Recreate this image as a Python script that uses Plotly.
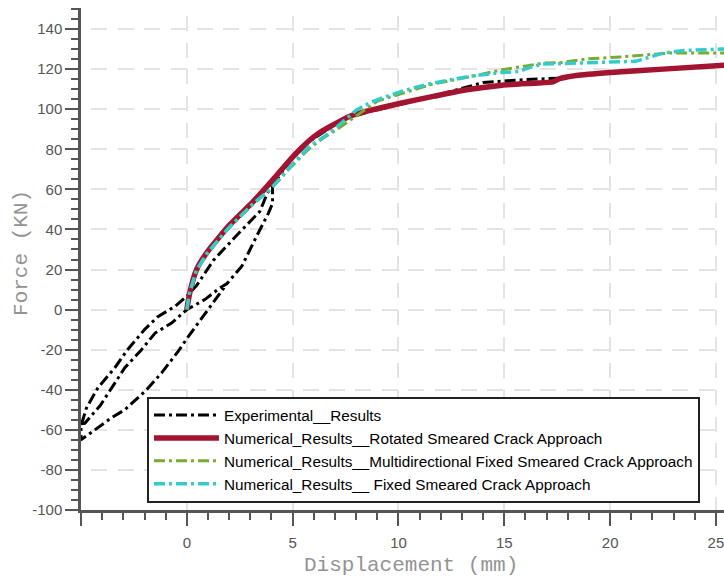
import plotly.graph_objects as go

# ---------------- data ----------------
exp_x = [-5.0, -4.82, -4.1, -3.5, -2.93, -2.14, -1.5, -0.72, 0.0, 0.85, 1.56, 1.9,
         2.6, 3.3, 3.85, 4.05, 4.05,
         3.8, 3.45, 2.35, 1.25, 0.46, 0.0, -0.57, -1.37, -2.0, -2.8, -3.4, -4.2, -4.74, -5.0, -5.0,
         -4.35, -3.56, -2.93, -1.9, -1.2, -0.42, 0.0, 0.85, 1.56, 1.9,
         None,
         4.05, 4.9, 5.8, 6.8, 7.7, 8.7, 10.1, 12.1, 14.0, 15.7, 17.6]
exp_y = [-57, -56.7, -48, -38, -29, -20, -11.7, -6.7, 0, 5, 10.8, 13,
         21.7, 36.7, 48, 53, 62,
         58, 49, 37, 24.5, 12, 6.7, 1.5, -3.5, -10, -20, -29, -39, -49, -58, -65,
         -60, -54, -50, -40, -31.7, -21, -14.5, -2, 8.3, 13,
         None,
         62, 74.5, 84, 91, 96, 99, 102.5, 107.8, 113.3, 114.6, 115.5]

rot_x = [0, 0.14, 0.46, 0.95, 2.0, 3.1, 4.0, 4.9, 5.4, 5.8, 6.3, 6.8, 7.7, 8.7, 10.1, 11.7,
         13.3, 14.9, 16.4, 17.3, 17.6, 18.4, 20.0, 22.5, 25.4]
rot_y = [0, 8.5, 20, 28.5, 42, 53.5, 64, 75, 80.5, 84.5, 88.5, 91.5, 96.5, 99.5, 103, 106.5,
         109.8, 112, 113, 113.6, 115.2, 116.8, 118.3, 120, 122]

multi_x = [0, 0.12, 0.45, 0.95, 2.0, 3.1, 3.95, 4.9, 5.8, 6.5, 7.1, 7.7, 8.3, 9.0,
           9.6, 10.5, 11.6, 13.3, 14.9, 16.1, 16.8, 17.6, 18.9, 20.5, 22.2, 22.9, 25.4]
multi_y = [0, 8, 19.5, 28, 41, 52.5, 60, 71, 80.5, 86, 90, 94.5, 99, 104,
           106, 109, 112.5, 116, 119.7, 121.7, 123, 123.2, 125.1, 126.1, 127.3, 128.1, 128.1]

fixed_x = [0, 0.12, 0.45, 0.95, 2.0, 3.1, 3.95, 4.9, 5.8, 6.8, 7.4, 8.0, 8.7, 9.6,
           10.5, 11.6, 13.3, 14.9, 15.7, 16.1, 16.8, 18.0, 19.6, 21.2, 21.4, 22.5,
           23.5, 24.4, 25.4]
fixed_y = [0, 8, 19.5, 28, 41, 52.5, 60, 71.5, 81.5, 88.5, 94, 99.5, 103.5, 107,
           110, 113, 116.3, 118.3, 118.8, 120.5, 122.5, 123, 123.4, 123.9, 124.5, 128,
           129.3, 129.8, 130]

x_tickvals = [-5, 0, 5, 10, 15, 20, 25]
x_ticktext = ["", "0", "5", "10", "15", "20", "25"]
y_tickvals = [-100, -80, -60, -40, -20, 0, 20, 40, 60, 80, 100, 120, 140]
y_ticktext = ["-100", "-80", "-60", "-40", "-20", "0", "20", "40", "60", "80", "100", "120", "140"]

names = ["Experimental__Results",
         "Numerical_Results__Rotated Smeared Crack Approach",
         "Numerical_Results__Multidirectional Fixed Smeared Crack Approach",
         "Numerical_Results__ Fixed Smeared Crack Approach"]

# ---------------- figure ----------------
dashdot = "11px,4px,3px,4px"
fig = go.Figure()
fig.add_trace(go.Scatter(x=exp_x, y=exp_y, mode="lines", name=names[0],
                         connectgaps=False,
                         line=dict(color="black", width=3, dash=dashdot)))
fig.add_trace(go.Scatter(x=rot_x, y=rot_y, mode="lines", name=names[1],
                         line=dict(color="#A2142F", width=5.5, shape="spline", smoothing=0.5)))
fig.add_trace(go.Scatter(x=multi_x, y=multi_y, mode="lines", name=names[2],
                         line=dict(color="#77AC30", width=3, dash=dashdot)))
fig.add_trace(go.Scatter(x=fixed_x, y=fixed_y, mode="lines", name=names[3],
                         line=dict(color="#33CCCC", width=3.5, dash=dashdot)))

axis_common = dict(
    showline=True, linecolor="#555555", linewidth=2.5,
    ticks="outside", ticklen=13, tickwidth=2, tickcolor="#555555",
    showgrid=True, gridcolor="#e4e4e4", gridwidth=2,
    zeroline=False, ticklabeloverflow="allow",
    tickfont=dict(family="Arial, Liberation Sans, sans-serif", size=15, color="#555555"),
)

fig.update_xaxes(range=[-5, 25.38], tickmode="array", tickvals=x_tickvals,
                 ticktext=x_ticktext, ticklabelstandoff=4,
                 griddash="0px,7.8px,15px,3.93px",
                 minor=dict(tickmode="linear", tick0=0, dtick=1, ticks="outside",
                            ticklen=7, tickwidth=2, tickcolor="#555555", showgrid=False),
                 **axis_common)
fig.update_yaxes(range=[-100, 150.5], tickmode="array", tickvals=y_tickvals,
                 ticktext=y_ticktext,
                 griddash="0px,10.4px,16px,0px",
                 minor=dict(tickmode="linear", tick0=0, dtick=5, ticks="outside",
                            ticklen=7, tickwidth=2, tickcolor="#555555", showgrid=False),
                 **axis_common)

title_font = dict(family="Courier New, Liberation Mono, monospace", size=21, color="#939393")
fig.add_annotation(text="Displacement (mm)", xref="paper", yref="paper",
                   x=0.513, y=-0.1096, showarrow=False, font=title_font,
                   xanchor="center", yanchor="middle")
fig.add_annotation(text="Force (KN)", xref="paper", yref="paper",
                   x=-0.0918, y=0.512, showarrow=False, font=title_font,
                   textangle=-90, xanchor="center", yanchor="middle")

fig.update_layout(
    width=724, height=579,
    margin=dict(l=81, r=0, t=8, b=69, autoexpand=False),
    paper_bgcolor="white", plot_bgcolor="white",
    showlegend=True,
    legend=dict(x=0.1026, y=0.226, xanchor="left", yanchor="top",
                bgcolor="white", bordercolor="#222222", borderwidth=2,
                font=dict(family="Arial, Liberation Sans, sans-serif", size=15.3, color="black"),
                itemwidth=65),
)

fig.write_html("out.html", config={"displayModeBar": False},
               post_script="document.body.style.margin='0';document.body.style.overflow='hidden';")
